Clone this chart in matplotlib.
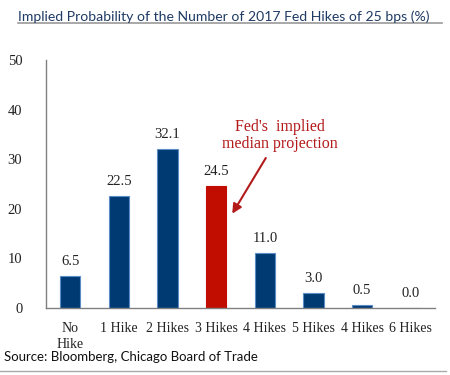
import numpy as np
import matplotlib.pyplot as plt

categories = ['No\nHike', '1 Hike', '2 Hikes', '3 Hikes', '4 Hikes', '5 Hikes', '4 Hikes', '6 Hikes']
probs = [6.5, 22.5, 32.1, 24.5, 11.0, 3.0, 0.5, 0.0]
highlight = 3

navy = '#003a72'
red = '#c00d00'
serif = 'Liberation Serif'

fig = plt.figure(figsize=(4.5, 3.75), dpi=100, facecolor='w')
ax = fig.add_axes([0.102, 0.179, 0.865, 0.661])

x = np.arange(len(categories))
colors = [red if i == highlight else navy for i in x]
edges = ['#c00d00' if i == highlight else '#5b8cc8' for i in x]
bars = ax.bar(x, probs, width=0.42, color=colors, edgecolor=edges, linewidth=0.8)

for xi, v in zip(x, probs):
    ax.text(xi, v + 1.6, '%.1f' % v, ha='center', va='bottom', fontsize=10.5,
            family=serif, color='#222222')

ax.set_xlim(-0.5, 7.5)
ax.set_ylim(0, 50)
ax.set_yticks([0, 10, 20, 30, 40, 50])
ax.set_xticks(x)
ax.set_xticklabels(categories, family=serif, fontsize=10, va='top', linespacing=1.35)
for tl in ax.get_yticklabels():
    tl.set_family(serif)
    tl.set_fontsize(10.5)
ax.tick_params(axis='both', length=0, colors='#222222')
ax.tick_params(axis='x', pad=10)
ax.tick_params(axis='y', pad=17)
for s in ['top', 'right']:
    ax.spines[s].set_visible(False)
for s in ['left', 'bottom']:
    ax.spines[s].set_color('#808080')
    ax.spines[s].set_linewidth(1.0)

ax.annotate("Fed's  implied\nmedian projection", xy=(3.33, 19.0), xytext=(4.3, 34.8),
            ha='center', va='center', fontsize=11.5, family=serif, color='#b31b1b',
            linespacing=1.05,
            arrowprops=dict(arrowstyle='-|>', color='#b31b1b', lw=1.5,
                            shrinkA=3, shrinkB=0, mutation_scale=14))

fig.text(0.04, 0.955, 'Implied Probability of the Number of 2017 Fed Hikes of 25 bps (%)',
         fontsize=10.1, family='Lato', color='#1f3a64', va='center')
fig.add_artist(plt.Line2D([0.04, 0.982], [0.938, 0.938], color='#999999', lw=1.2))
fig.text(0.01, 0.048, 'Source: Bloomberg, Chicago Board of Trade', fontsize=9.5,
         family='Lato', color='#111111', va='center')
fig.add_artist(plt.Line2D([0.0, 0.99], [0.012, 0.012], color='#aaaaaa', lw=1.0))

plt.savefig('out.png', dpi=100)
